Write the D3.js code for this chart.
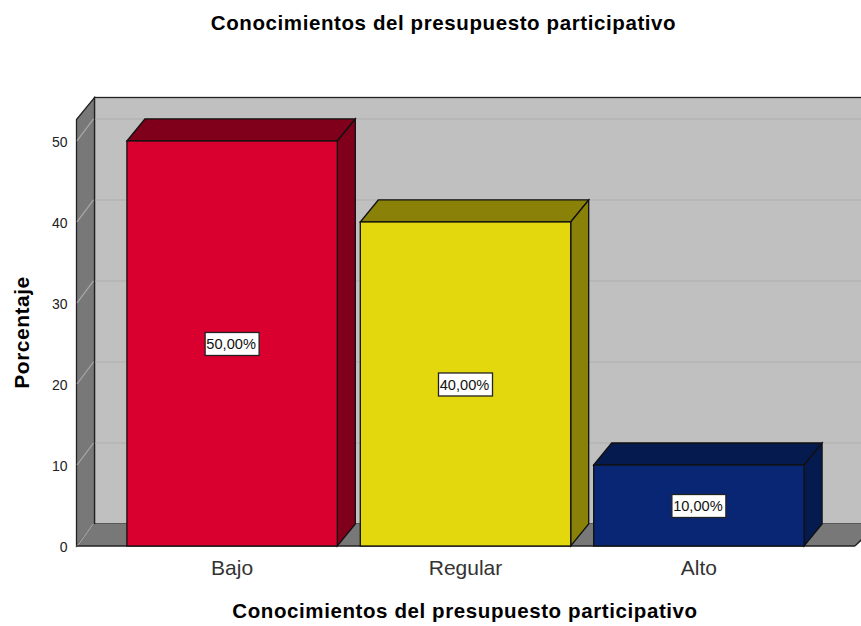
<!DOCTYPE html>
<html>
<head>
<meta charset="utf-8">
<style>
html, body { margin: 0; padding: 0; background: #fff; }
svg { display: block; }
text { font-family: "Liberation Sans", Arial, sans-serif; }
</style>
<script src="https://cdn.jsdelivr.net/npm/d3@7"></script>
</head>
<body>
<div id="chart"></div>
<script>
// Chart data
var categories = ["Bajo", "Regular", "Alto"];
var percentages = [50, 40, 10];
var barLabels = ["50,00%", "40,00%", "10,00%"];
var yTicks = [0, 10, 20, 30, 40, 50];
var frontColors = ["#d9002f", "#e3d70e", "#082673"];
var topColors = ["#80001c", "#8a8208", "#051a4f"];
var sideColors = ["#80001c", "#8a8208", "#051a4f"];

var chartTitle = "Conocimientos del presupuesto participativo";
var xTitle = "Conocimientos del presupuesto participativo";
var yTitle = "Porcentaje";

var width = 861, height = 626;

// Depth of the fake 3D box
var depthX = 18, depthY = -22;

var svg = d3.select("#chart")
    .append("svg")
    .attr("width", width)
    .attr("height", height);

// Scales
var y = d3.scaleLinear()
    .domain([0, 52.65])
    .range([546, 119.5]);

var x = d3.scaleBand()
    .domain(categories)
    .range([115.25, 815.75])
    .paddingInner(0.0985)
    .paddingOuter(0.05);

var left = 76.5, right = 855, floorY = y(0), topY = y.range()[1];

function pts(list) {
    return list.map(function(p) { return p.join(","); }).join(" ");
}

// Back wall
svg.append("rect")
    .attr("x", left + depthX)
    .attr("y", topY + depthY)
    .attr("width", width - left - depthX + 2)
    .attr("height", floorY - topY)
    .attr("fill", "#c0c0c0")
    .attr("stroke", "#222")
    .attr("stroke-width", 1.3);

// Left wall
svg.append("polygon")
    .attr("points", pts([[left, floorY], [left, topY], [left + depthX, topY + depthY], [left + depthX, floorY + depthY]]))
    .attr("fill", "#787878")
    .attr("stroke", "#222")
    .attr("stroke-width", 1.3);

// Floor
svg.append("polygon")
    .attr("points", pts([[left, floorY], [left + depthX, floorY + depthY], [width + 2, floorY + depthY], [width + 2, floorY - 6], [right, floorY]]))
    .attr("fill", "#787878");

// Gridlines on the walls
svg.selectAll("line.grid-back")
    .data(yTicks.slice(1))
    .enter()
    .append("line")
    .attr("class", "grid-back")
    .attr("x1", left + depthX + 1)
    .attr("x2", width)
    .attr("y1", function(d) { return y(d) + depthY; })
    .attr("y2", function(d) { return y(d) + depthY; })
    .attr("stroke", "#b4b4b4")
    .attr("stroke-width", 1.5);

svg.selectAll("line.grid-side")
    .data(yTicks)
    .enter()
    .append("line")
    .attr("class", "grid-side")
    .attr("x1", left + 0.5)
    .attr("x2", left + depthX - 1)
    .attr("y1", function(d) { return y(d); })
    .attr("y2", function(d) { return y(d) + depthY; })
    .attr("stroke", "#a8a8a8")
    .attr("stroke-width", 1.2);

// Front edge of the floor
svg.append("line")
    .attr("x1", left)
    .attr("x2", right)
    .attr("y1", floorY)
    .attr("y2", floorY)
    .attr("stroke", "#222")
    .attr("stroke-width", 1.5);

svg.append("line")
    .attr("x1", right)
    .attr("x2", width + 2)
    .attr("y1", floorY)
    .attr("y2", floorY - 8)
    .attr("stroke", "#222")
    .attr("stroke-width", 1.3);

// Bars
var bars = svg.selectAll("g.bar")
    .data(categories)
    .enter()
    .append("g")
    .attr("class", "bar");

bars.append("polygon")
    .attr("points", function(d, i) {
        var x0 = x(d), x1 = x0 + x.bandwidth(), yy = y(percentages[i]);
        return pts([[x0, yy], [x0 + depthX, yy + depthY], [x1 + depthX, yy + depthY], [x1, yy]]);
    })
    .attr("fill", function(d, i) { return topColors[i]; })
    .attr("stroke", "#111")
    .attr("stroke-width", 1.3);

bars.append("polygon")
    .attr("points", function(d, i) {
        var x1 = x(d) + x.bandwidth(), yy = y(percentages[i]);
        return pts([[x1, yy], [x1 + depthX, yy + depthY], [x1 + depthX, floorY + depthY], [x1, floorY]]);
    })
    .attr("fill", function(d, i) { return sideColors[i]; })
    .attr("stroke", "#111")
    .attr("stroke-width", 1.3);

bars.append("rect")
    .attr("x", function(d) { return x(d); })
    .attr("y", function(d, i) { return y(percentages[i]); })
    .attr("width", x.bandwidth())
    .attr("height", function(d, i) { return floorY - y(percentages[i]); })
    .attr("fill", function(d, i) { return frontColors[i]; })
    .attr("stroke", "#111")
    .attr("stroke-width", 1.3);

// Value labels in a white box
bars.append("rect")
    .attr("x", function(d) { return x(d) + x.bandwidth() / 2 - 27; })
    .attr("y", function(d, i) { return y(percentages[i] / 2) - 11; })
    .attr("width", 54)
    .attr("height", 23)
    .attr("fill", "#fff")
    .attr("stroke", "#222")
    .attr("stroke-width", 1.3);

bars.append("text")
    .attr("x", function(d) { return x(d) + x.bandwidth() / 2 - 1; })
    .attr("y", function(d, i) { return y(percentages[i] / 2) + 6; })
    .attr("text-anchor", "middle")
    .attr("font-size", 14.6)
    .attr("fill", "#111")
    .text(function(d, i) { return barLabels[i]; });

// Axis labels
var yAxis = d3.axisLeft(y).tickValues(yTicks).tickSize(0).tickPadding(9);
var yG = svg.append("g")
    .attr("transform", "translate(" + left + ",1.5)")
    .call(yAxis);
yG.select(".domain").remove();
yG.selectAll("text")
    .attr("font-size", 14)
    .attr("fill", "#222")
    .style("font-family", '"Liberation Sans", Arial, sans-serif');

var xAxis = d3.axisBottom(x).tickSize(0).tickPadding(14);
var xG = svg.append("g")
    .attr("transform", "translate(0," + floorY + ")")
    .call(xAxis);
xG.select(".domain").remove();
xG.selectAll("text")
    .attr("font-size", 21)
    .attr("fill", "#333")
    .style("font-family", '"Liberation Sans", Arial, sans-serif');

// Titles
svg.append("text")
    .attr("x", 443.5)
    .attr("y", 30)
    .attr("text-anchor", "middle")
    .attr("font-size", 20.5)
    .attr("letter-spacing", 0.6)
    .attr("font-weight", "bold")
    .attr("fill", "#000")
    .text(chartTitle);

svg.append("text")
    .attr("x", 465)
    .attr("y", 618)
    .attr("text-anchor", "middle")
    .attr("font-size", 20.5)
    .attr("letter-spacing", 0.6)
    .attr("font-weight", "bold")
    .attr("fill", "#000")
    .text(xTitle);

svg.append("text")
    .attr("transform", "translate(29,332.5) rotate(-90)")
    .attr("text-anchor", "middle")
    .attr("font-size", 21)
    .attr("letter-spacing", 0.5)
    .attr("font-weight", "bold")
    .attr("fill", "#000")
    .text(yTitle);
</script>
</body>
</html>
